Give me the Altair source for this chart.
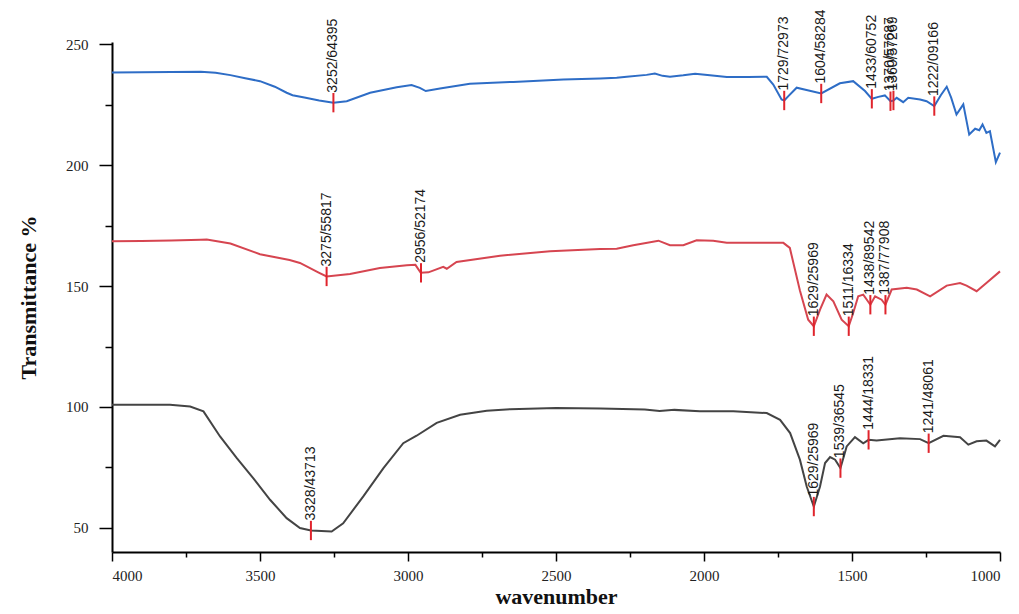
import altair as alt
import pandas as pd

# ---------------- data ----------------
blue_wn = [4000, 3900, 3800, 3700, 3650, 3600, 3550, 3500, 3450, 3410, 3390, 3350, 3300, 3252, 3207,
           3128, 3038, 2988, 2960, 2940, 2892, 2791, 2644, 2475, 2351, 2295, 2261, 2194, 2166, 2140,
           2115, 2070, 2030, 1980, 1923, 1850, 1788, 1766, 1738, 1729, 1715, 1687, 1650, 1604, 1541,
           1496, 1456, 1433, 1411, 1389, 1370, 1360, 1349, 1327, 1310, 1270, 1248, 1222, 1200, 1180,
           1165, 1147, 1124, 1104, 1084, 1070, 1059, 1046, 1034, 1014, 1000]
blue_t = [238.4, 238.5, 238.6, 238.7, 238.3, 237.3, 236.0, 234.8, 232.5, 230.0, 229.0, 228.0, 226.8, 225.9, 226.5,
          230.0, 232.3, 233.2, 232.0, 230.7, 231.8, 233.7, 234.5, 235.5, 235.9, 236.2, 236.6, 237.4, 238.0, 237.0,
          236.6, 237.2, 237.9, 237.2, 236.5, 236.5, 236.6, 233.4, 227.2, 226.8, 228.6, 232.1, 231.0, 229.7, 233.9,
          234.8, 230.7, 227.5, 228.3, 228.9, 226.5, 226.8, 227.9, 226.1, 227.9, 227.2, 226.5, 224.5, 229.0, 232.5,
          228.0, 221.0, 225.2, 212.7, 215.1, 214.5, 216.9, 213.4, 214.1, 201.3, 205.2]

red_wn = [4000, 3900, 3800, 3700, 3680, 3600, 3500, 3400, 3365, 3300, 3275, 3196, 3095, 3004, 2975,
          2957, 2931, 2881, 2869, 2836, 2689, 2520, 2351, 2295, 2239, 2154, 2115, 2070, 2025, 1969,
          1923, 1800, 1732, 1710, 1676, 1648, 1629, 1608, 1586, 1563, 1535, 1511, 1496, 1479, 1462,
          1438, 1422, 1400, 1387, 1366, 1315, 1281, 1236, 1180, 1135, 1113, 1079, 1046, 1000]
red_t = [168.6, 168.7, 168.9, 169.2, 169.3, 167.6, 163.2, 160.8, 159.6, 155.5, 154.0, 155.0, 157.5, 158.6, 158.8,
         155.5, 155.7, 158.0, 157.2, 160.0, 162.6, 164.4, 165.4, 165.5, 166.9, 168.8, 166.9, 166.9, 169.0, 168.8,
         167.9, 167.9, 167.9, 165.8, 148.2, 136.1, 133.4, 140.3, 146.5, 143.7, 136.1, 133.4, 138.9, 145.8, 146.5,
         142.3, 145.8, 144.4, 142.3, 148.6, 149.3, 148.6, 145.8, 150.2, 151.3, 150.2, 147.9, 151.3, 156.1]

gray_wn = [4000, 3900, 3804, 3736, 3691, 3635, 3579, 3523, 3466, 3410, 3365, 3328, 3258, 3219, 3151,
           3083, 3016, 2971, 2903, 2824, 2734, 2655, 2500, 2350, 2200, 2150, 2100, 2014, 1901, 1788,
           1743, 1709, 1676, 1653, 1629, 1608, 1591, 1574, 1557, 1539, 1518, 1490, 1462, 1444, 1417,
           1338, 1270, 1241, 1191, 1135, 1107, 1079, 1046, 1017, 1000]
gray_t = [100.9, 100.9, 100.9, 100.2, 98.2, 87.8, 78.9, 70.6, 61.6, 54.0, 49.9, 48.9, 48.5, 51.9, 63.0,
          74.7, 85.0, 88.1, 93.4, 96.8, 98.4, 99.1, 99.6, 99.4, 99.0, 98.3, 98.8, 98.2, 98.2, 97.5,
          94.7, 89.2, 78.2, 67.1, 58.8, 67.1, 76.8, 79.3, 78.2, 74.7, 83.7, 87.5, 85.0, 86.4, 86.1,
          87.1, 86.7, 85.0, 88.1, 87.5, 84.4, 85.8, 86.1, 83.7, 86.4]

peak_wn = [3252, 1729, 1604, 1433, 1370, 1360, 1222,
           3275, 2956, 1629, 1511, 1438, 1387,
           3328, 1629, 1539, 1444, 1241]
peak_t = [225.9, 226.8, 229.7, 227.5, 226.5, 226.8, 224.5,
          154.0, 155.5, 133.4, 133.4, 142.3, 142.3,
          48.9, 58.8, 74.7, 86.4, 85.0]
peak_label = ["3252/64395", "1729/72973", "1604/58284", "1433/60752", "1370/57687", "1360/57269", "1222/09166",
              "3275/55817", "2956/52174", "1629/25969", "1511/16334", "1438/89542", "1387/77908",
              "3328/43713", "1629/25969", "1539/36545", "1444/18331", "1241/48061"]

series_names = ["blue", "red", "gray"]
series_colors = ["#2e6dc6", "#d64550", "#444444"]

x_ticks = list(range(1000, 4001, 250))
y_ticks = list(range(50, 251, 25))

# ---------------- tables ----------------
spec = pd.concat([
    pd.DataFrame({"wn": blue_wn, "t": blue_t, "s": "blue"}),
    pd.DataFrame({"wn": red_wn, "t": red_t, "s": "red"}),
    pd.DataFrame({"wn": gray_wn, "t": gray_t, "s": "gray"}),
], ignore_index=True)
peaks = pd.DataFrame({"wn": peak_wn, "t": peak_t, "label": peak_label})

serif = "Liberation Serif"

x_scale = alt.Scale(domain=[1000, 4000], reverse=True, nice=False, zero=False)
y_scale = alt.Scale(domain=[40, 251], nice=False, zero=False)

x_axis = alt.Axis(
    values=x_ticks, format="d",
    labelExpr="datum.value % 500 === 0 ? datum.label : ''",
    tickSize={"condition": {"test": "datum.value % 500 === 0", "value": 9}, "value": 5},
    labelFont=serif, labelFontSize=15, labelColor="#222", labelPadding=7,
    labelOverlap=False,
    title="wavenumber", titleFont=serif, titleFontSize=22, titleFontWeight="bold",
    titleColor="#111", titleY=51, titleBaseline="alphabetic",
    grid=False, domainColor="#000", domainWidth=2, tickColor="#000", tickWidth=1.5,
)
y_axis = alt.Axis(
    values=y_ticks, format="d",
    labelExpr="datum.value % 50 === 0 ? datum.label : ''",
    tickSize={"condition": {"test": "datum.value % 50 === 0", "value": 13}, "value": 7},
    labelFont=serif, labelFontSize=15, labelColor="#222", labelPadding=11,
    labelOverlap=False,
    title="Transmittance %", titleFont=serif, titleFontSize=22, titleFontWeight="bold",
    titleColor="#111", titleX=-72, titleY=255, titleAngle=270, titleBaseline="bottom",
    titleAlign="center",
    grid=False, domainColor="#000", domainWidth=2, tickColor="#000", tickWidth=1.5,
)

lines = alt.Chart(spec).mark_line(strokeWidth=2).encode(
    x=alt.X("wn:Q", scale=x_scale, axis=x_axis),
    y=alt.Y("t:Q", scale=y_scale, axis=y_axis),
    color=alt.Color("s:N", scale=alt.Scale(domain=series_names, range=series_colors), legend=None),
    detail="s:N",
)

ticks = alt.Chart(peaks).transform_calculate(
    lo="datum.t - 4", hi="datum.t + 4"
).mark_rule(color="#e0242c", strokeWidth=2).encode(
    x=alt.X("wn:Q", scale=x_scale),
    y=alt.Y("lo:Q", scale=y_scale),
    y2="hi:Q",
)

labels = alt.Chart(peaks).mark_text(
    angle=270, align="left", baseline="middle", dx=10,
    font="Liberation Sans Narrow, Liberation Sans, Arial", fontSize=14, color="#1a1a1a",
).encode(
    x=alt.X("wn:Q", scale=x_scale),
    y=alt.Y("t:Q", scale=y_scale),
    text="label:N",
)

chart = alt.layer(lines, ticks, labels).properties(
    width=888, height=510,
    autosize=alt.AutoSizeParams(type="none"),
    padding={"left": 104, "top": 34, "right": 11, "bottom": 58},
    background="white",
).configure_view(stroke=None)

chart.save("out.html", embed_options={"renderer": "svg", "actions": False})
